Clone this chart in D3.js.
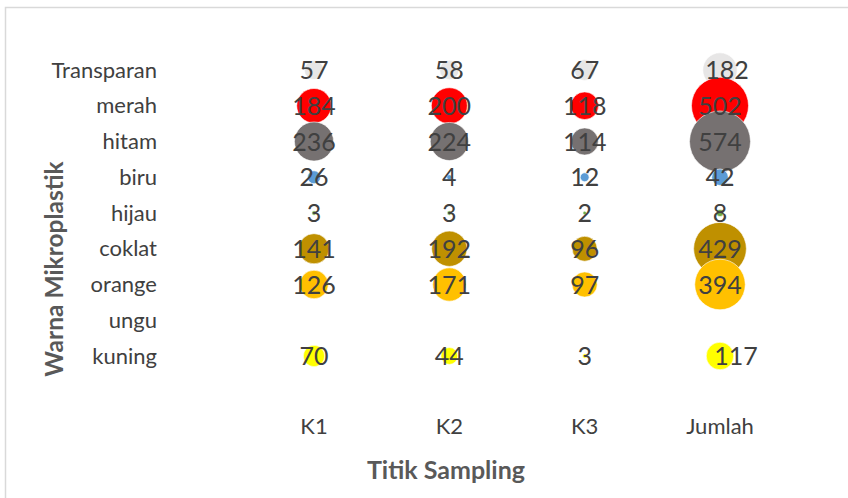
<!DOCTYPE html>
<html>
<head>
<meta charset="utf-8">
<script src="https://cdn.jsdelivr.net/npm/d3@7"></script>
<style>
  html, body { margin: 0; padding: 0; background: #fff; }
  svg { display: block; }
  text { font-family: Lato, "Open Sans", sans-serif; }
</style>
</head>
<body>
<svg id="chart" width="848" height="498"></svg>
<script>
// Sampling points (x categories)
const points = ["K1", "K2", "K3", "Jumlah"];
// Microplastic colours (rows, top to bottom)
const colours = ["Transparan", "merah", "hitam", "biru", "hijau", "coklat", "orange", "ungu", "kuning"];
// Counts per colour at K1, K2, K3, Jumlah
const transparan = [57, 58, 67, 182];
const merah      = [184, 200, 118, 502];
const hitam      = [236, 224, 114, 574];
const biru       = [26, 4, 12, 42];
const hijau      = [3, 3, 2, 8];
const coklat     = [141, 192, 96, 429];
const orange     = [126, 171, 97, 394];
const ungu       = [null, null, null, null];
const kuning     = [70, 44, 3, 117];
const fills = ["#e7e6e6", "#ff0000", "#767171", "#5b9bd5", "#70ad47", "#bf9000", "#ffc000", "#7030a0", "#ffff00"];

const seriesValues = [transparan, merah, hitam, biru, hijau, coklat, orange, ungu, kuning];

const svg = d3.select("#chart");

// outer chart frame
svg.append("rect")
  .attr("x", 5.5).attr("y", 7.5)
  .attr("width", 900).attr("height", 600)
  .attr("fill", "#fff")
  .attr("stroke", "#d9d9d9").attr("stroke-width", 1.5);

const x = d3.scaleLinear().domain([1, points.length]).range([314, 720]);
// row value: Transparan = 9 ... kuning = 1
const y = d3.scaleLinear().domain([1, colours.length]).range([356, 70]);
const r = d3.scaleSqrt().domain([0, 574]).range([0, 30.5]);

const rows = colours.map((c, i) => ({
  name: c,
  fill: fills[i],
  level: colours.length - i,
  values: seriesValues[i]
}));

const cells = [];
rows.forEach(row => row.values.forEach((v, j) => {
  if (v != null) cells.push({ row, col: j + 1, v });
}));

// bubbles, drawn in series order
svg.append("g").selectAll("circle")
  .data(cells)
  .join("circle")
  .attr("cx", d => x(d.col))
  .attr("cy", d => y(d.row.level))
  .attr("r", d => r(d.v))
  .attr("fill", d => d.row.fill)
  .attr("stroke", "#fff").attr("stroke-width", 0.6);

// value labels above all bubbles
const labelShift = { "Transparan|4": 7, "kuning|4": 16 };
svg.append("g").selectAll("text")
  .data(cells)
  .join("text")
  .attr("x", d => x(d.col) + (labelShift[d.row.name + "|" + d.col] || 0))
  .attr("y", d => y(d.row.level) + 9)
  .attr("text-anchor", "middle")
  .attr("font-size", 25)
  .attr("fill", "#404040")
  .text(d => d.v);

// category axis labels (left)
svg.append("g").selectAll("text")
  .data(rows)
  .join("text")
  .attr("x", 157)
  .attr("y", d => y(d.level) + 7.5)
  .attr("text-anchor", "end")
  .attr("font-size", 22)
  .attr("fill", "#404040")
  .text(d => d.name);

// sampling point labels (bottom)
svg.append("g").selectAll("text")
  .data(points)
  .join("text")
  .attr("x", (d, i) => x(i + 1))
  .attr("y", 434)
  .attr("text-anchor", "middle")
  .attr("font-size", 22)
  .attr("fill", "#404040")
  .text(d => d);

// axis titles
svg.append("text")
  .attr("x", 446).attr("y", 479)
  .attr("text-anchor", "middle")
  .attr("font-size", 25).attr("font-weight", "bold")
  .attr("fill", "#595959")
  .text("Titik Sampling");

svg.append("text")
  .attr("transform", "translate(63,269) rotate(-90)")
  .attr("text-anchor", "middle")
  .attr("font-size", 24.5).attr("font-weight", "bold")
  .attr("fill", "#595959")
  .text("Warna Mikroplastik");
</script>
</body>
</html>
